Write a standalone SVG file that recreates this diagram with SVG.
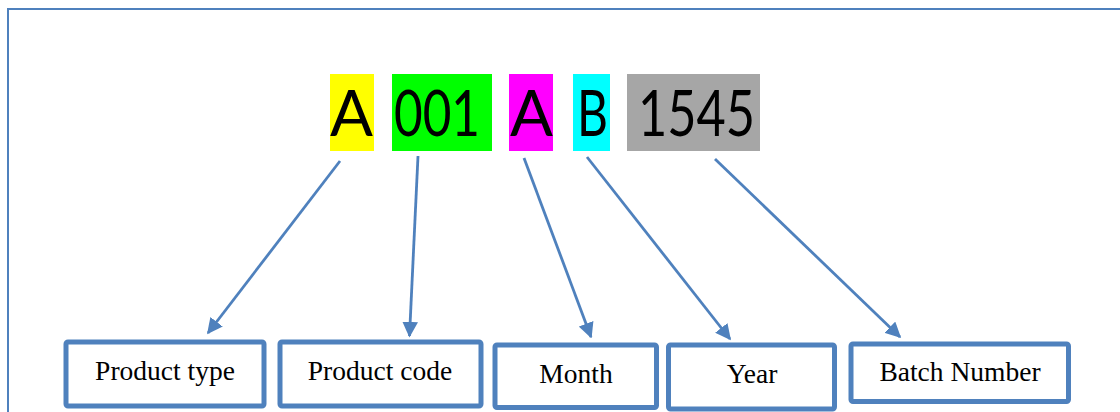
<svg xmlns="http://www.w3.org/2000/svg" width="1120" height="412" viewBox="0 0 1120 412">
<defs>
<style>
.frame{fill:none;stroke:#4F81BD;stroke-width:2}
.code{font-family:Lato,"Open Sans",sans-serif;font-size:64px;fill:#000}
.box{fill:#fff;stroke:#4F81BD;stroke-width:5}
.lbl{font-family:"Liberation Serif","Times New Roman",serif;font-size:27.5px;fill:#000;text-anchor:middle}
.conn{stroke:#4F81BD;stroke-width:2.8;fill:none;marker-end:url(#ah)}
</style>
<marker id="ah" viewBox="0 0 10 10" refX="9" refY="5" markerWidth="5.6" markerHeight="5.6" orient="auto" markerUnits="strokeWidth">
<path d="M0,0 L10,5 L0,10 z" fill="#4F81BD"/>
</marker>
</defs>
<rect width="1120" height="412" fill="#fff"/>
<path class="frame" d="M8,420 L8,9 L1130,9"/>
<g id="code">
<g id="seg-type"><rect x="330" y="74" width="44" height="77" fill="#FFFF00"/><text class="code" x="330" y="136" textLength="43" lengthAdjust="spacingAndGlyphs">A</text></g>
<g id="seg-code"><rect x="392" y="74" width="100" height="77" fill="#00FF00"/><text class="code" x="394" y="136" textLength="86" lengthAdjust="spacingAndGlyphs">001</text></g>
<g id="seg-month"><rect x="509" y="74" width="44" height="77" fill="#FF00FF"/><text class="code" x="510" y="136" textLength="43" lengthAdjust="spacingAndGlyphs">A</text></g>
<g id="seg-year"><rect x="573" y="74" width="37" height="77" fill="#00FFFF"/><text class="code" x="577" y="136" textLength="31" lengthAdjust="spacingAndGlyphs">B</text></g>
<g id="seg-batch"><rect x="627" y="74" width="133" height="77" fill="#A6A6A6"/><text class="code" x="638" y="136" textLength="117" lengthAdjust="spacingAndGlyphs">1545</text></g>
</g>
<g id="connectors">
<line class="conn" x1="340" y1="161" x2="208" y2="333"/>
<line class="conn" x1="418" y1="156" x2="409.5" y2="336"/>
<line class="conn" x1="524" y1="158" x2="591" y2="337"/>
<line class="conn" x1="587" y1="157" x2="730" y2="339"/>
<line class="conn" x1="715" y1="159" x2="900" y2="337"/>
</g>
<g id="product-type"><rect class="box" x="66" y="342" width="198" height="64" rx="2"/><text class="lbl" x="165" y="380">Product type</text></g>
<g id="product-code"><rect class="box" x="280" y="342" width="201" height="64" rx="2"/><text class="lbl" x="380" y="380">Product code</text></g>
<g id="month"><rect class="box" x="495" y="345" width="161.5" height="62.5" rx="2"/><text class="lbl" x="576" y="383">Month</text></g>
<g id="year"><rect class="box" x="668.5" y="345" width="166" height="64" rx="2"/><text class="lbl" x="752" y="383">Year</text></g>
<g id="batch-number"><rect class="box" x="851" y="344" width="217.5" height="57.5" rx="2"/><text class="lbl" x="960" y="381">Batch Number</text></g>
</svg>
